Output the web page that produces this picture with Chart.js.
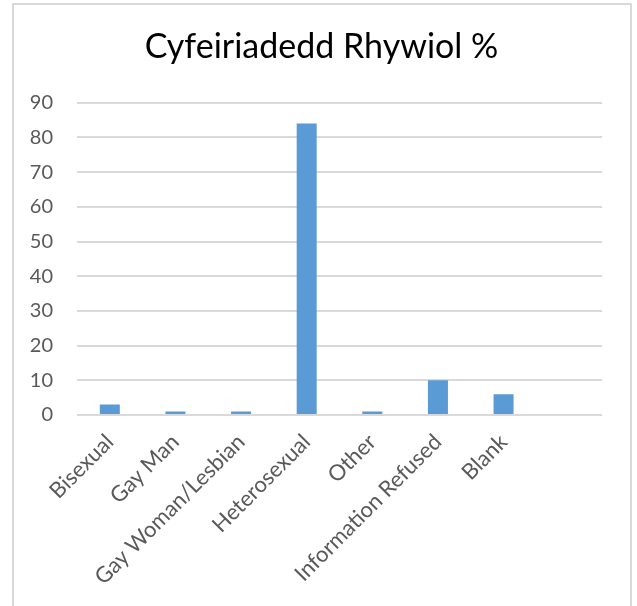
<!DOCTYPE html>
<html>
<head>
<meta charset="utf-8">
<script src="https://cdn.jsdelivr.net/npm/chart.js@4"></script>
<style>
  html, body { margin: 0; padding: 0; background: #ffffff; }
  #wrap { width: 637px; height: 606px; }
</style>
</head>
<body>
<div id="wrap"><canvas id="c" width="637" height="606"></canvas></div>
<script>
// Sexual orientation breakdown, percentages
const categories = ['Bisexual', 'Gay Man', 'Gay Woman/Lesbian', 'Heterosexual', 'Other', 'Information Refused', 'Blank', ''];
const percentages = [3, 1, 1, 84, 1, 10, 6, null];
const yTicks = [0, 10, 20, 30, 40, 50, 60, 70, 80, 90];
const chartTitle = 'Cyfeiriadedd Rhywiol %';

const FONT = 'Lato, "Open Sans", "Liberation Sans", sans-serif';

// light grey outline round the whole chart
const frame = {
  id: 'frame',
  beforeDraw(chart) {
    const ctx = chart.ctx;
    ctx.save();
    ctx.strokeStyle = '#d9d9d9';
    ctx.lineWidth = 2;
    ctx.strokeRect(13, 4, 618, 640);
    ctx.restore();
  }
};

// centre the title over the plot plus its value labels rather than the full canvas
const titleShift = {
  id: 'titleShift',
  afterLayout(chart) {
    if (chart.titleBlock) chart.titleBlock.left = 41;
  }
};

new Chart(document.getElementById('c'), {
  type: 'bar',
  data: {
    labels: categories,
    datasets: [{
      data: percentages,
      backgroundColor: '#5b9bd5',
      borderWidth: 0,
      barPercentage: 0.305,
      categoryPercentage: 1.0
    }]
  },
  options: {
    responsive: false,
    animation: false,
    layout: { padding: { left: 0, right: 35, top: 0, bottom: 0 } },
    plugins: {
      legend: { display: false },
      tooltip: { enabled: false },
      title: {
        display: true,
        text: chartTitle,
        color: '#000000',
        font: { family: FONT, size: 34, weight: 'normal' },
        padding: { top: 27, bottom: 35 }
      }
    },
    scales: {
      x: {
        grid: { display: false, drawTicks: false },
        border: { display: false },
        ticks: {
          color: '#595959',
          font: { family: FONT, size: 22 },
          autoSkip: false,
          minRotation: 45,
          maxRotation: 45,
          padding: 14
        },
        afterFit(scale) { scale.height = 191; }
      },
      y: {
        min: 0,
        max: 90,
        afterBuildTicks(scale) { scale.ticks = yTicks.map(v => ({ value: v })); },
        grid: { color: '#d9d9d9', lineWidth: 2, drawTicks: false },
        border: { display: false },
        ticks: {
          color: '#595959',
          font: { family: FONT, size: 20 },
          padding: 24
        },
        afterFit(scale) { scale.width = 77; }
      }
    }
  },
  plugins: [frame, titleShift]
});
</script>
</body>
</html>
